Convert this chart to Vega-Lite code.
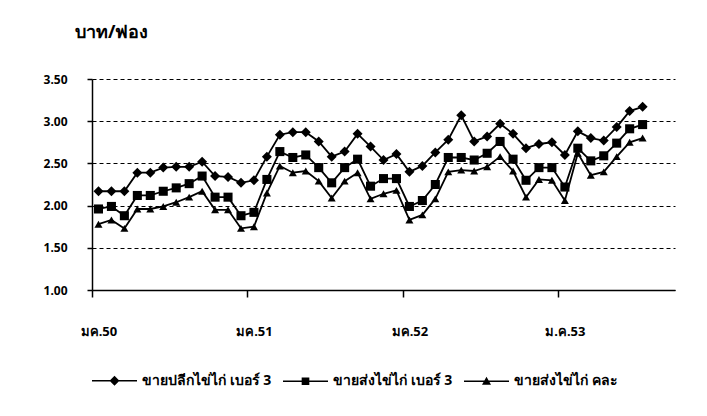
{
  "$schema": "https://vega.github.io/schema/vega-lite/v6.json",
  "width": 583,
  "height": 211,
  "autosize": {"type": "none"},
  "padding": {"left": 92, "top": 79, "right": 32, "bottom": 126},
  "background": "white",
  "config": {
    "view": {"stroke": null},
    "font": "Noto Sans",
    "axis": {"labelFont": "Noto Sans", "labelColor": "black", "labelFontWeight": "bold", "labelFontSize": 12, "tickWidth": 1.5},
    "legend": {"labelFont": "Noto Sans", "labelColor": "black", "labelFontWeight": "bold", "labelFontSize": 14}
  },
  "title": {"text": "บาท/ฟอง", "anchor": "start", "frame": "group", "dx": -17, "offset": 31, "fontSize": 18, "fontWeight": "bold", "color": "black", "font": "Noto Sans"},
  "data": {"values": [
    {"month": "ม.ค.50", "ขายปลีกไข่ไก่ เบอร์ 3": 2.17, "ขายส่งไข่ไก่ เบอร์ 3": 1.96, "ขายส่งไข่ไก่ คละ": 1.78},
    {"month": "ก.พ.50", "ขายปลีกไข่ไก่ เบอร์ 3": 2.17, "ขายส่งไข่ไก่ เบอร์ 3": 1.99, "ขายส่งไข่ไก่ คละ": 1.83},
    {"month": "มี.ค.50", "ขายปลีกไข่ไก่ เบอร์ 3": 2.17, "ขายส่งไข่ไก่ เบอร์ 3": 1.88, "ขายส่งไข่ไก่ คละ": 1.73},
    {"month": "เม.ย.50", "ขายปลีกไข่ไก่ เบอร์ 3": 2.39, "ขายส่งไข่ไก่ เบอร์ 3": 2.12, "ขายส่งไข่ไก่ คละ": 1.96},
    {"month": "พ.ค.50", "ขายปลีกไข่ไก่ เบอร์ 3": 2.39, "ขายส่งไข่ไก่ เบอร์ 3": 2.12, "ขายส่งไข่ไก่ คละ": 1.96},
    {"month": "มิ.ย.50", "ขายปลีกไข่ไก่ เบอร์ 3": 2.45, "ขายส่งไข่ไก่ เบอร์ 3": 2.17, "ขายส่งไข่ไก่ คละ": 1.99},
    {"month": "ก.ค.50", "ขายปลีกไข่ไก่ เบอร์ 3": 2.46, "ขายส่งไข่ไก่ เบอร์ 3": 2.21, "ขายส่งไข่ไก่ คละ": 2.04},
    {"month": "ส.ค.50", "ขายปลีกไข่ไก่ เบอร์ 3": 2.46, "ขายส่งไข่ไก่ เบอร์ 3": 2.26, "ขายส่งไข่ไก่ คละ": 2.10},
    {"month": "ก.ย.50", "ขายปลีกไข่ไก่ เบอร์ 3": 2.52, "ขายส่งไข่ไก่ เบอร์ 3": 2.35, "ขายส่งไข่ไก่ คละ": 2.17},
    {"month": "ต.ค.50", "ขายปลีกไข่ไก่ เบอร์ 3": 2.35, "ขายส่งไข่ไก่ เบอร์ 3": 2.10, "ขายส่งไข่ไก่ คละ": 1.95},
    {"month": "พ.ย.50", "ขายปลีกไข่ไก่ เบอร์ 3": 2.34, "ขายส่งไข่ไก่ เบอร์ 3": 2.10, "ขายส่งไข่ไก่ คละ": 1.95},
    {"month": "ธ.ค.50", "ขายปลีกไข่ไก่ เบอร์ 3": 2.27, "ขายส่งไข่ไก่ เบอร์ 3": 1.88, "ขายส่งไข่ไก่ คละ": 1.73},
    {"month": "ม.ค.51", "ขายปลีกไข่ไก่ เบอร์ 3": 2.30, "ขายส่งไข่ไก่ เบอร์ 3": 1.92, "ขายส่งไข่ไก่ คละ": 1.75},
    {"month": "ก.พ.51", "ขายปลีกไข่ไก่ เบอร์ 3": 2.58, "ขายส่งไข่ไก่ เบอร์ 3": 2.31, "ขายส่งไข่ไก่ คละ": 2.15},
    {"month": "มี.ค.51", "ขายปลีกไข่ไก่ เบอร์ 3": 2.84, "ขายส่งไข่ไก่ เบอร์ 3": 2.64, "ขายส่งไข่ไก่ คละ": 2.47},
    {"month": "เม.ย.51", "ขายปลีกไข่ไก่ เบอร์ 3": 2.87, "ขายส่งไข่ไก่ เบอร์ 3": 2.57, "ขายส่งไข่ไก่ คละ": 2.39},
    {"month": "พ.ค.51", "ขายปลีกไข่ไก่ เบอร์ 3": 2.87, "ขายส่งไข่ไก่ เบอร์ 3": 2.60, "ขายส่งไข่ไก่ คละ": 2.41},
    {"month": "มิ.ย.51", "ขายปลีกไข่ไก่ เบอร์ 3": 2.76, "ขายส่งไข่ไก่ เบอร์ 3": 2.45, "ขายส่งไข่ไก่ คละ": 2.29},
    {"month": "ก.ค.51", "ขายปลีกไข่ไก่ เบอร์ 3": 2.58, "ขายส่งไข่ไก่ เบอร์ 3": 2.27, "ขายส่งไข่ไก่ คละ": 2.09},
    {"month": "ส.ค.51", "ขายปลีกไข่ไก่ เบอร์ 3": 2.64, "ขายส่งไข่ไก่ เบอร์ 3": 2.45, "ขายส่งไข่ไก่ คละ": 2.29},
    {"month": "ก.ย.51", "ขายปลีกไข่ไก่ เบอร์ 3": 2.85, "ขายส่งไข่ไก่ เบอร์ 3": 2.55, "ขายส่งไข่ไก่ คละ": 2.39},
    {"month": "ต.ค.51", "ขายปลีกไข่ไก่ เบอร์ 3": 2.70, "ขายส่งไข่ไก่ เบอร์ 3": 2.23, "ขายส่งไข่ไก่ คละ": 2.08},
    {"month": "พ.ย.51", "ขายปลีกไข่ไก่ เบอร์ 3": 2.54, "ขายส่งไข่ไก่ เบอร์ 3": 2.32, "ขายส่งไข่ไก่ คละ": 2.14},
    {"month": "ธ.ค.51", "ขายปลีกไข่ไก่ เบอร์ 3": 2.61, "ขายส่งไข่ไก่ เบอร์ 3": 2.32, "ขายส่งไข่ไก่ คละ": 2.18},
    {"month": "ม.ค.52", "ขายปลีกไข่ไก่ เบอร์ 3": 2.40, "ขายส่งไข่ไก่ เบอร์ 3": 1.99, "ขายส่งไข่ไก่ คละ": 1.83},
    {"month": "ก.พ.52", "ขายปลีกไข่ไก่ เบอร์ 3": 2.47, "ขายส่งไข่ไก่ เบอร์ 3": 2.06, "ขายส่งไข่ไก่ คละ": 1.89},
    {"month": "มี.ค.52", "ขายปลีกไข่ไก่ เบอร์ 3": 2.63, "ขายส่งไข่ไก่ เบอร์ 3": 2.25, "ขายส่งไข่ไก่ คละ": 2.08},
    {"month": "เม.ย.52", "ขายปลีกไข่ไก่ เบอร์ 3": 2.78, "ขายส่งไข่ไก่ เบอร์ 3": 2.57, "ขายส่งไข่ไก่ คละ": 2.40},
    {"month": "พ.ค.52", "ขายปลีกไข่ไก่ เบอร์ 3": 3.07, "ขายส่งไข่ไก่ เบอร์ 3": 2.57, "ขายส่งไข่ไก่ คละ": 2.42},
    {"month": "มิ.ย.52", "ขายปลีกไข่ไก่ เบอร์ 3": 2.76, "ขายส่งไข่ไก่ เบอร์ 3": 2.54, "ขายส่งไข่ไก่ คละ": 2.41},
    {"month": "ก.ค.52", "ขายปลีกไข่ไก่ เบอร์ 3": 2.82, "ขายส่งไข่ไก่ เบอร์ 3": 2.62, "ขายส่งไข่ไก่ คละ": 2.46},
    {"month": "ส.ค.52", "ขายปลีกไข่ไก่ เบอร์ 3": 2.97, "ขายส่งไข่ไก่ เบอร์ 3": 2.76, "ขายส่งไข่ไก่ คละ": 2.58},
    {"month": "ก.ย.52", "ขายปลีกไข่ไก่ เบอร์ 3": 2.85, "ขายส่งไข่ไก่ เบอร์ 3": 2.55, "ขายส่งไข่ไก่ คละ": 2.41},
    {"month": "ต.ค.52", "ขายปลีกไข่ไก่ เบอร์ 3": 2.68, "ขายส่งไข่ไก่ เบอร์ 3": 2.30, "ขายส่งไข่ไก่ คละ": 2.10},
    {"month": "พ.ย.52", "ขายปลีกไข่ไก่ เบอร์ 3": 2.73, "ขายส่งไข่ไก่ เบอร์ 3": 2.45, "ขายส่งไข่ไก่ คละ": 2.31},
    {"month": "ธ.ค.52", "ขายปลีกไข่ไก่ เบอร์ 3": 2.75, "ขายส่งไข่ไก่ เบอร์ 3": 2.45, "ขายส่งไข่ไก่ คละ": 2.30},
    {"month": "ม.ค.53", "ขายปลีกไข่ไก่ เบอร์ 3": 2.60, "ขายส่งไข่ไก่ เบอร์ 3": 2.22, "ขายส่งไข่ไก่ คละ": 2.06},
    {"month": "ก.พ.53", "ขายปลีกไข่ไก่ เบอร์ 3": 2.88, "ขายส่งไข่ไก่ เบอร์ 3": 2.68, "ขายส่งไข่ไก่ คละ": 2.62},
    {"month": "มี.ค.53", "ขายปลีกไข่ไก่ เบอร์ 3": 2.80, "ขายส่งไข่ไก่ เบอร์ 3": 2.53, "ขายส่งไข่ไก่ คละ": 2.36},
    {"month": "เม.ย.53", "ขายปลีกไข่ไก่ เบอร์ 3": 2.77, "ขายส่งไข่ไก่ เบอร์ 3": 2.59, "ขายส่งไข่ไก่ คละ": 2.40},
    {"month": "พ.ค.53", "ขายปลีกไข่ไก่ เบอร์ 3": 2.93, "ขายส่งไข่ไก่ เบอร์ 3": 2.74, "ขายส่งไข่ไก่ คละ": 2.58},
    {"month": "มิ.ย.53", "ขายปลีกไข่ไก่ เบอร์ 3": 3.12, "ขายส่งไข่ไก่ เบอร์ 3": 2.91, "ขายส่งไข่ไก่ คละ": 2.75},
    {"month": "ก.ค.53", "ขายปลีกไข่ไก่ เบอร์ 3": 3.17, "ขายส่งไข่ไก่ เบอร์ 3": 2.96, "ขายส่งไข่ไก่ คละ": 2.80}
  ]},
  "transform": [
    {"fold": ["ขายปลีกไข่ไก่ เบอร์ 3", "ขายส่งไข่ไก่ เบอร์ 3", "ขายส่งไข่ไก่ คละ"], "as": ["series", "price"]}
  ],
  "encoding": {
    "x": {
      "field": "month", "type": "ordinal", "sort": null,
      "scale": {"type": "point", "padding": 0.5, "domain": ["ม.ค.50","ก.พ.50","มี.ค.50","เม.ย.50","พ.ค.50","มิ.ย.50","ก.ค.50","ส.ค.50","ก.ย.50","ต.ค.50","พ.ย.50","ธ.ค.50","ม.ค.51","ก.พ.51","มี.ค.51","เม.ย.51","พ.ค.51","มิ.ย.51","ก.ค.51","ส.ค.51","ก.ย.51","ต.ค.51","พ.ย.51","ธ.ค.51","ม.ค.52","ก.พ.52","มี.ค.52","เม.ย.52","พ.ค.52","มิ.ย.52","ก.ค.52","ส.ค.52","ก.ย.52","ต.ค.52","พ.ย.52","ธ.ค.52","ม.ค.53","ก.พ.53","มี.ค.53","เม.ย.53","พ.ค.53","มิ.ย.53","ก.ค.53","ส.ค.53","ก.ย.53"]},
      "axis": {
        "title": null, "values": ["ม.ค.50","ม.ค.51","ม.ค.52","ม.ค.53"],
        "labelExpr": "datum.value == 'ม.ค.53' ? datum.value : replace(datum.value, 'ม.ค.', 'มค.')",
        "labelAngle": 0, "domainColor": "black", "domainWidth": 1.5, "tickColor": "black", "tickSize": 7, "ticks": true,
        "tickOffset": -6.48, "labelOffset": 6.48, "labelPadding": 28, "grid": false, "labelFontSize": 13
      }
    },
    "y": {
      "field": "price", "type": "quantitative",
      "scale": {"domain": [1, 3.5], "nice": false, "zero": false},
      "axis": {
        "title": null, "values": [1, 1.5, 2, 2.5, 3, 3.5], "format": ".2f",
        "grid": true, "gridColor": "black", "gridDash": [4, 3], "gridWidth": 1, "ticks": true,
        "domainColor": "black", "domainWidth": 1.5, "tickColor": "black", "tickSize": 5, "labelPadding": 20
      }
    }
  },
  "layer": [
    {
      "mark": {"type": "line", "color": "black", "strokeWidth": 1.8},
      "encoding": {"detail": {"field": "series"}}
    },
    {
      "mark": {"type": "point", "filled": true, "color": "black", "opacity": 1},
      "encoding": {
        "shape": {"field": "series", "type": "nominal", "legend": null,
          "scale": {"domain": ["ขายปลีกไข่ไก่ เบอร์ 3", "ขายส่งไข่ไก่ เบอร์ 3", "ขายส่งไข่ไก่ คละ"], "range": ["diamond", "square", "triangle-up"]}},
        "size": {"field": "series", "type": "nominal", "legend": null,
          "scale": {"domain": ["ขายปลีกไข่ไก่ เบอร์ 3", "ขายส่งไข่ไก่ เบอร์ 3", "ขายส่งไข่ไก่ คละ"], "range": [100, 64, 55]}}
      }
    },
    {
      "transform": [{"filter": "false"}],
      "mark": {"type": "point", "filled": true, "color": "black", "opacity": 1},
      "encoding": {
        "shape": {"field": "series", "type": "nominal",
          "scale": {"domain": ["ขายปลีกไข่ไก่ เบอร์ 3", "ขายส่งไข่ไก่ เบอร์ 3", "ขายส่งไข่ไก่ คละ"],
            "range": [
              "M-1,-0.035L1,-0.035L1,0.035L-1,0.035ZM0,-0.22L0.22,0L0,0.22L-0.22,0Z",
              "M-1,-0.035L1,-0.035L1,0.035L-1,0.035ZM-0.17,-0.17L0.17,-0.17L0.17,0.17L-0.17,0.17Z",
              "M-1,-0.035L1,-0.035L1,0.035L-1,0.035ZM0,-0.2L0.2,0.15L-0.2,0.15Z"
            ]},
          "legend": {
            "title": null, "orient": "none", "direction": "horizontal", "legendX": -1, "legendY": 278,
            "symbolSize": 2025, "labelOffset": 4, "columnPadding": 8,
            "symbolFillColor": "black",
            "encode": {"symbols": {"update": {"fill": {"value": "black"}, "opacity": {"value": 1}}}}
          }
        }
      }
    }
  ],
  "resolve": {"scale": {"shape": "independent"}}
}
